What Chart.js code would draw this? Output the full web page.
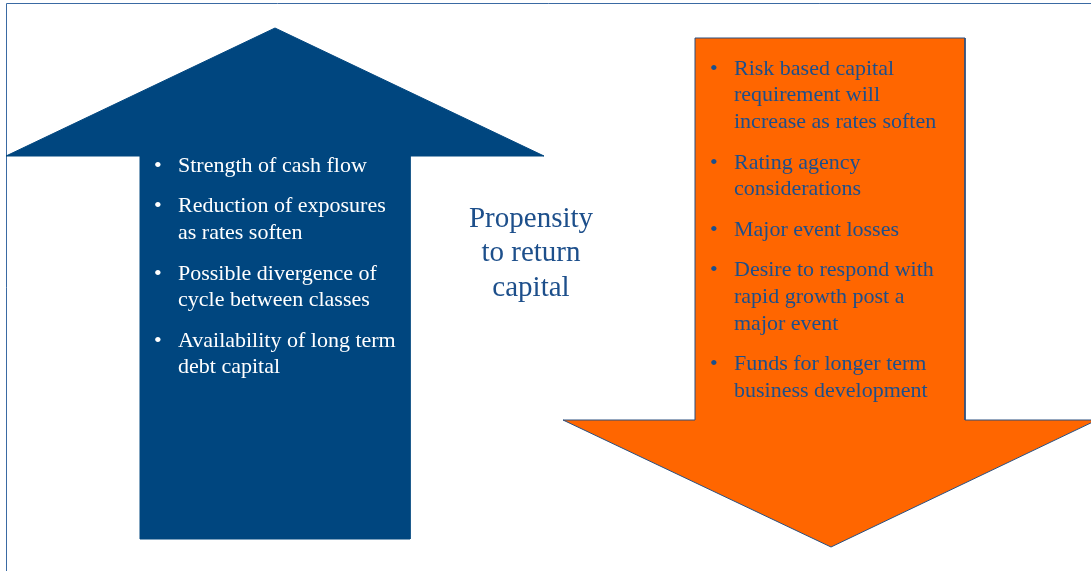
<!DOCTYPE html>
<html>
<head>
<meta charset="utf-8">
<script src="https://cdn.jsdelivr.net/npm/chart.js@4"></script>
<style>
  html, body { margin: 0; padding: 0; background: #ffffff; }
  #wrap { width: 1091px; height: 571px; position: relative; }
</style>
</head>
<body>
<div id="wrap"><canvas id="diagram"></canvas></div>
<script>
// Shapes, in page units (x right, y down)
const upArrowX   = [275, 544, 410, 410, 140, 140, 6, 275];
const upArrowY   = [28, 156, 156, 539, 539, 156, 156, 28];
const downArrowX = [695, 965, 965, 1097, 831, 563, 695, 695];
const downArrowY = [38, 38, 420, 420, 547, 420, 420, 38];

// Texts
const leftItems = [
  ["Strength of cash flow"],
  ["Reduction of exposures", "as rates soften"],
  ["Possible divergence of", "cycle between classes"],
  ["Availability of long term", "debt capital"]
];
const rightItems = [
  ["Risk based capital", "requirement will", "increase as rates soften"],
  ["Rating agency", "considerations"],
  ["Major event losses"],
  ["Desire to respond with", "rapid growth post a", "major event"],
  ["Funds for longer term", "business development"]
];
const centerLabel = ["Propensity", "to return", "capital"];

const BLUE = "#00467f";
const ORANGE = "#ff6600";
const TEXT_BLUE = "#1d4f8b";
const SERIF = "'Liberation Serif', 'Times New Roman', serif";

function toPoints(xs, ys) {
  return xs.map((x, i) => ({ x: x, y: ys[i] }));
}

// Frame + bullet texts, placed through the scales
const textPlugin = {
  id: "texts",
  beforeDatasetsDraw(chart) {
    const ctx = chart.ctx;
    const sx = chart.scales.x, sy = chart.scales.y;
    ctx.save();
    ctx.strokeStyle = "#3a6aa3";
    ctx.lineWidth = 1;
    ctx.beginPath();
    ctx.moveTo(sx.getPixelForValue(6.5), sy.getPixelForValue(571));
    ctx.lineTo(sx.getPixelForValue(6.5), sy.getPixelForValue(3.5));
    ctx.lineTo(sx.getPixelForValue(1091), sy.getPixelForValue(3.5));
    ctx.stroke();
    ctx.restore();
  },
  afterDatasetsDraw(chart) {
    const ctx = chart.ctx;
    const sx = chart.scales.x, sy = chart.scales.y;

    function drawList(items, bulletX, textX, startY, color) {
      let y = startY;
      ctx.font = "22px " + SERIF;
      ctx.fillStyle = color;
      ctx.textBaseline = "middle";
      ctx.textAlign = "left";
      items.forEach(lines => {
        ctx.fillText("\u2022", sx.getPixelForValue(bulletX), sy.getPixelForValue(y));
        lines.forEach(line => {
          ctx.fillText(line, sx.getPixelForValue(textX), sy.getPixelForValue(y));
          y += 26.6;
        });
        y += 14;
      });
    }

    ctx.save();
    drawList(leftItems, 154, 178, 166, "#ffffff");
    drawList(rightItems, 710, 734, 69, TEXT_BLUE);

    ctx.font = "29px " + SERIF;
    ctx.fillStyle = TEXT_BLUE;
    ctx.textAlign = "center";
    ctx.textBaseline = "middle";
    centerLabel.forEach((line, i) => {
      ctx.fillText(line, sx.getPixelForValue(531), sy.getPixelForValue(219 + i * 34.5));
    });
    ctx.restore();
  }
};

new Chart(document.getElementById("diagram"), {
  type: "scatter",
  data: {
    datasets: [
      {
        label: "up",
        data: toPoints(upArrowX, upArrowY),
        showLine: true,
        fill: "shape",
        backgroundColor: BLUE,
        borderColor: BLUE,
        borderWidth: 1,
        pointRadius: 0,
        tension: 0
      },
      {
        label: "down",
        data: toPoints(downArrowX, downArrowY),
        showLine: true,
        fill: "shape",
        backgroundColor: ORANGE,
        borderColor: "#2a4f7e",
        borderWidth: 1,
        pointRadius: 0,
        tension: 0
      }
    ]
  },
  options: {
    responsive: true,
    maintainAspectRatio: false,
    animation: false,
    layout: { padding: 0 },
    plugins: {
      legend: { display: false },
      tooltip: { enabled: false }
    },
    scales: {
      x: { type: "linear", min: 0, max: 1091, display: false },
      y: { type: "linear", min: 0, max: 571, reverse: true, display: false }
    }
  },
  plugins: [textPlugin]
});
</script>
</body>
</html>
